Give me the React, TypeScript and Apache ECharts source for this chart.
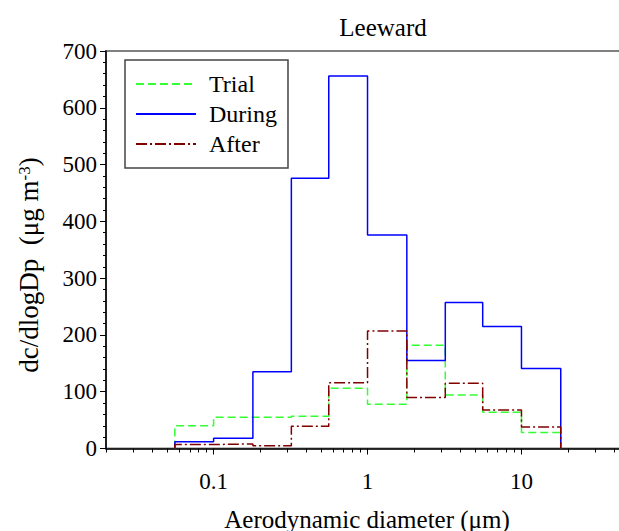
import React, { useEffect, useRef } from "react";
import * as echarts from "echarts";

const binEdges = [0.056, 0.1, 0.18, 0.32, 0.56, 1.0, 1.8, 3.2, 5.6, 10, 18];
const trial = [40, 55, 55, 57, 106, 78, 182, 94, 64, 28];
const during = [12, 18, 135, 476, 656, 376, 155, 257, 215, 141];
const after = [7, 8, 5, 39, 116, 207, 90, 115, 68, 38];

const xMajorTicks = [0.1, 1, 10, 100];
const xLabels = [0.1, 1, 10];
const xMinorTicks = [
  0.02, 0.03, 0.04, 0.05, 0.06, 0.07, 0.08, 0.09,
  0.2, 0.3, 0.4, 0.5, 0.6, 0.7, 0.8, 0.9,
  2, 3, 4, 5, 6, 7, 8, 9,
  20, 30, 40, 50, 60, 70, 80, 90,
];

const FONT = "'Liberation Serif', 'Times New Roman', serif";

function stepPoints(edges: number[], vals: number[]) {
  const pts: number[][] = [[edges[0], 0]];
  vals.forEach((v, i) => {
    pts.push([edges[i], v]);
    pts.push([edges[i + 1], v]);
  });
  pts.push([edges[edges.length - 1], 0]);
  return pts;
}

export default function App() {
  const ref = useRef<HTMLDivElement>(null);
  useEffect(() => {
    if (!ref.current) return;
    const chart = echarts.init(ref.current, undefined, { renderer: "svg" });
    const CW = 680;
    const gridLeft = 106;
    const gridRight = CW - 675.4;
    chart.setOption({
      animation: false,
      backgroundColor: "#fff",
      grid: {
        left: gridLeft,
        right: gridRight,
        top: 51,
        bottom: 82.5,
        show: true,
        borderColor: "#808080",
        borderWidth: 2,
        backgroundColor: "transparent",
      },
      legend: {
        orient: "vertical",
        left: 125,
        top: 60,
        data: ["Trial", "During", "After"],
        itemWidth: 60,
        itemHeight: 14,
        itemGap: 6,
        itemStyle: { opacity: 0 },
        borderColor: "#444",
        borderWidth: 1.5,
        borderRadius: 0,
        padding: [12, 11, 12, 10],
        textStyle: { fontFamily: FONT, fontSize: 24, color: "#000", padding: [0, 0, 0, 8] },
      },
      xAxis: [
        {
          type: "log",
          logBase: 10,
          min: 0.02,
          max: 100,
          position: "bottom",
          axisLine: { show: true, lineStyle: { color: "#000", width: 1.5 } },
          axisTick: { show: true, length: 6, customValues: xMajorTicks, lineStyle: { color: "#000", width: 1 } },
          axisLabel: {
            customValues: xLabels,
            fontFamily: FONT,
            fontSize: 23,
            color: "#000",
            margin: 21,
            formatter: (v: number) => String(v),
          },
          splitLine: { show: false },
          minorTick: { show: false },
        },
        {
          type: "log",
          logBase: 10,
          min: 0.02,
          max: 100,
          position: "bottom",
          offset: 0,
          axisLine: { show: false },
          axisTick: { show: true, length: 4, customValues: xMinorTicks, lineStyle: { color: "#000", width: 1 } },
          axisLabel: { show: false },
          splitLine: { show: false },
        },
      ],
      yAxis: {
        type: "value",
        min: 0,
        max: 700,
        interval: 100,
        axisLine: { show: true, lineStyle: { color: "#000", width: 1.5 } },
        axisTick: { show: true, length: 6, lineStyle: { color: "#000" } },
        minorTick: { show: true, splitNumber: 5, length: 3, lineStyle: { color: "#000" } },
        axisLabel: { fontFamily: FONT, fontSize: 23, color: "#000", margin: 9 },
        splitLine: { show: false },
      },
      series: [
        {
          name: "Trial",
          type: "line",
          xAxisIndex: 0,
          data: stepPoints(binEdges, trial),
          showSymbol: false,
          symbol: "none",
          lineStyle: { color: "#33ff33", width: 1.5, type: [8, 4] },
          itemStyle: { color: "#33ff33" },
        },
        {
          name: "During",
          type: "line",
          xAxisIndex: 0,
          data: stepPoints(binEdges, during),
          showSymbol: false,
          symbol: "none",
          lineStyle: { color: "#0000ff", width: 1.5, type: "solid" },
          itemStyle: { color: "#0000ff" },
        },
        {
          name: "After",
          type: "line",
          xAxisIndex: 0,
          data: stepPoints(binEdges, after),
          showSymbol: false,
          symbol: "none",
          lineStyle: { color: "#800000", width: 1.5, type: [11, 3, 2, 3] },
          itemStyle: { color: "#800000" },
        },
      ],
      graphic: [
        {
          type: "text",
          x: 383,
          y: 27,
          style: {
            text: "Leeward",
            fontFamily: FONT,
            fontSize: 25,
            fill: "#000",
            align: "center",
            verticalAlign: "middle",
          },
        },
        {
          type: "text",
          x: 367,
          y: 519,
          style: {
            text: "Aerodynamic diameter (μm)",
            fontFamily: FONT,
            fontSize: 25,
            fill: "#000",
            align: "center",
            verticalAlign: "middle",
          },
        },
        {
          type: "text",
          x: 29,
          y: 265,
          rotation: Math.PI / 2,
          style: {
            text: "{a|dc/dlogDp  (μg m}{s|-3}{a|)}",
            fill: "#000",
            align: "center",
            verticalAlign: "middle",
            rich: {
              a: { fontFamily: FONT, fontSize: 27, fill: "#000", color: "#000" },
              s: { fontFamily: FONT, fontSize: 17, fill: "#000", color: "#000", verticalAlign: "top" },
            },
          },
        },
      ],
    });
    return () => chart.dispose();
  }, []);
  return (
    <div style={{ position: "fixed", left: 0, top: 0, width: 619, height: 531, overflow: "hidden", background: "#fff" }}>
      <div ref={ref} style={{ width: 680, height: 531 }} />
    </div>
  );
}
